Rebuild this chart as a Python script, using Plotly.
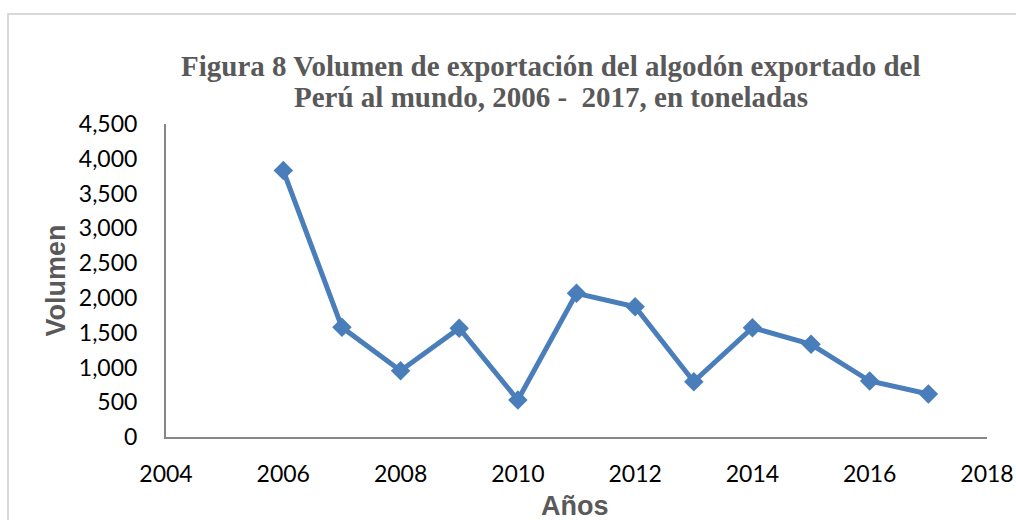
import plotly.graph_objects as go

years = [2006, 2007, 2008, 2009, 2010, 2011, 2012, 2013, 2014, 2015, 2016, 2017]
volumen = [3830, 1577, 953, 1563, 532, 2066, 1873, 795, 1571, 1333, 805, 618]

y_ticks = [0, 500, 1000, 1500, 2000, 2500, 3000, 3500, 4000, 4500]
x_ticks = [2004, 2006, 2008, 2010, 2012, 2014, 2016, 2018]

title_lines = [
    "Figura 8 Volumen de exportación del algodón exportado del",
    "Perú al mundo, 2006 -  2017, en toneladas",
]

# plot area in pixels (for placing annotations)
L, R, T, B = 166, 29, 124, 83
PW, PH = 1016 - L - R, 520 - T - B


def px_x(px):
    return (px - L) / PW


def px_y(py):
    return (520 - B - py) / PH


fig = go.Figure()
fig.add_trace(go.Scatter(
    x=years, y=volumen, mode="lines+markers",
    line=dict(color="#4A7EBB", width=5),
    marker=dict(symbol="diamond", size=15, color="#4A7EBB"),
    showlegend=False, hoverinfo="x+y",
))

tick_font = dict(family="Lato, Open Sans, sans-serif", size=23, color="#000000")
title_font = dict(family="Liberation Serif, Times New Roman, serif", size=29, color="#595959")
axis_title_font = dict(family="Liberation Sans, Arial, sans-serif", size=27, color="#595959")

fig.update_layout(
    width=1016, height=520,
    margin=dict(l=L, r=R, t=T, b=B),
    paper_bgcolor="white", plot_bgcolor="white",
    xaxis=dict(
        range=[2004, 2018], tickvals=x_ticks, ticktext=[str(v) for v in x_ticks],
        showgrid=False, zeroline=False, automargin=False,
        showline=True, linecolor="#868686", linewidth=2,
        ticks="", tickfont=tick_font, ticklabelstandoff=15,
    ),
    yaxis=dict(
        range=[0, 4500], tickvals=y_ticks, tickformat=",",
        showgrid=False, zeroline=False, automargin=False,
        showline=True, linecolor="#868686", linewidth=2,
        ticks="", tickfont=tick_font, ticklabelstandoff=22,
    ),
    shapes=[dict(
        type="rect", xref="paper", yref="paper",
        x0=px_x(8), x1=1.2, y0=-0.5, y1=px_y(14),
        line=dict(color="#D9D9D9", width=2), fillcolor="rgba(0,0,0,0)", layer="below",
    )],
    annotations=[
        dict(text="<b>" + title_lines[0] + "</b>", xref="paper", yref="paper",
             x=px_x(551), y=px_y(66), xanchor="center", yanchor="middle",
             showarrow=False, font=title_font),
        dict(text="<b>" + title_lines[1] + "</b>", xref="paper", yref="paper",
             x=px_x(551), y=px_y(97), xanchor="center", yanchor="middle",
             showarrow=False, font=title_font),
        dict(text="<b>Volumen</b>", xref="paper", yref="paper",
             x=px_x(55), y=0.5, xanchor="center", yanchor="middle",
             textangle=-90, showarrow=False, font=axis_title_font),
        dict(text="<b>Años</b>", xref="paper", yref="paper",
             x=px_x(575), y=px_y(506), xanchor="center", yanchor="middle",
             showarrow=False, font=axis_title_font),
    ],
)

fig.write_html(
    "out.html",
    config={"displayModeBar": False},
    post_script="document.body.style.margin='0';document.body.style.overflow='hidden';",
)
